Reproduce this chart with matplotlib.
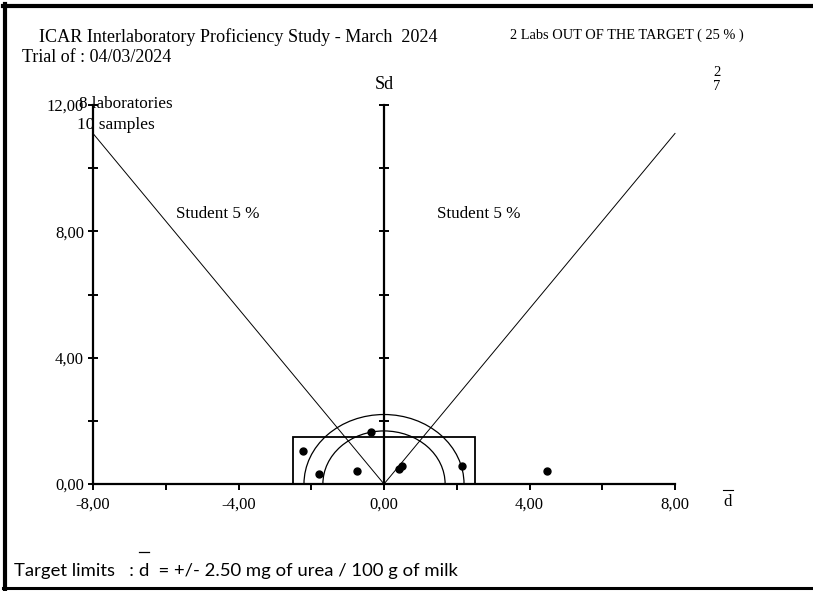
import numpy as np
import matplotlib.pyplot as plt
from matplotlib.patches import Rectangle, Arc
from matplotlib.lines import Line2D

# data
lab_d = [-2.24, -1.80, -0.73, -0.36, 0.40, 0.50, 2.15, 4.47]
lab_sd = [1.06, 0.31, 0.41, 1.66, 0.46, 0.56, 0.58, 0.42]
student_x = [-8, 0, 8]
student_y = [11.1, 0, 11.1]
target_d = 2.5
target_sd = 1.5
circle_r = [1.68, 2.2]
x_major = [-8, -4, 0, 4, 8]
x_minor = [-6, -2, 2, 6]
y_major = [0, 4, 8, 12]
y_minor = [2, 6, 10]
x_labels = ['-8,00', '-4,00', '0,00', '4,00', '8,00']
y_labels = ['0,00', '4,00', '8,00', '12,00']

W, H = 813, 591
serif = 'Liberation Serif'

def fx(px):
    return px / W

def fy(py):
    return 1 - py / H

fig = plt.figure(figsize=(W / 100, H / 100), dpi=100)

# axes placed so that -8..8 -> 93..675 px and 0..12 -> 484..105 px
xlim = (-10, 11.5)
ylim = (-2, 13.5)
sx = (675 - 93) / 16
sy = (484 - 105) / 12
left = 93 + (xlim[0] + 8) * sx
right = 93 + (xlim[1] + 8) * sx
bottom = 484 - ylim[0] * sy
top = 484 - ylim[1] * sy
ax = fig.add_axes([fx(left), fy(bottom), (right - left) / W, (bottom - top) / H])
ax.set_xlim(*xlim)
ax.set_ylim(*ylim)
ax.patch.set_alpha(0)

for s in ['top', 'right']:
    ax.spines[s].set_visible(False)
ax.spines['left'].set_position(('data', -8))
ax.spines['left'].set_bounds(0, 12)
ax.spines['bottom'].set_position(('data', 0))
ax.spines['bottom'].set_bounds(-8, 8)
for s in ['left', 'bottom']:
    ax.spines[s].set_linewidth(1.6)

ax.set_xticks(x_major)
ax.set_xticklabels(x_labels, fontfamily=serif, fontsize=12)
ax.set_xticks(x_minor, minor=True)
ax.set_yticks(y_major)
ax.set_yticklabels(y_labels, fontfamily=serif, fontsize=12)
ax.set_yticks(y_minor, minor=True)
ax.tick_params(axis='x', which='both', direction='out', length=4, width=1.4, pad=5)
ax.tick_params(axis='y', which='both', direction='inout', length=7, width=1.4, pad=3)

# central Sd axis
ax2 = ax.twinx()
ax2.set_ylim(*ylim)
for s in ['top', 'left', 'bottom']:
    ax2.spines[s].set_visible(False)
ax2.spines['right'].set_position(('data', 0))
ax2.spines['right'].set_bounds(0, 12)
ax2.spines['right'].set_linewidth(1.6)
ax2.set_yticks(y_major + y_minor)
ax2.set_yticklabels([])
ax2.tick_params(axis='y', direction='inout', length=7, width=1.4)

# student lines, target and circles
ax.plot(student_x, student_y, color='black', lw=0.7)
ax.add_patch(Rectangle((-target_d, 0), 2 * target_d, target_sd, fill=False,
                       edgecolor='black', lw=1.3))
for r in circle_r:
    ax.add_patch(Arc((0, 0), 2 * r, 2 * r, theta1=0, theta2=180,
                     edgecolor='black', lw=0.9))
ax.plot(lab_d, lab_sd, 'o', color='black', ms=5, zorder=5)

# texts
fig.text(fx(39), fy(37), 'ICAR Interlaboratory Proficiency Study - March  2024',
         family=serif, fontsize=13.1, va='center')
fig.text(fx(22), fy(57), 'Trial of : 04/03/2024', family=serif, fontsize=13, va='center')
fig.text(fx(510), fy(35), '2 Labs OUT OF THE TARGET ( 25 % )', family=serif,
         fontsize=10.4, va='center')
fig.text(fx(384), fy(85), 'Sd', family=serif, fontsize=13, ha='center', va='center')
fig.text(fx(717), fy(72), '2', family=serif, fontsize=10.5, ha='center', va='center')
fig.text(fx(717), fy(87), '7', family=serif, fontsize=10.5, ha='center', va='center')
fig.text(fx(79), fy(104), '8 laboratories', family=serif, fontsize=12.3, va='center')
fig.text(fx(77), fy(125), '10 samples', family=serif, fontsize=12.5, va='center')
fig.text(fx(176), fy(214), 'Student 5 %', family=serif, fontsize=12.3, va='center')
fig.text(fx(437), fy(214), 'Student 5 %', family=serif, fontsize=12.3, va='center')

# d-bar axis label
fig.text(fx(728), fy(502), 'd', family=serif, fontsize=12, ha='center', va='center')
fig.add_artist(Line2D([fx(723), fx(733)], [fy(490), fy(490)], color='black', lw=0.8))

# bottom note
t1 = fig.text(fx(14), fy(571), 'Target limits   : ', family='Lato', fontsize=13.3, va='center')
fig.canvas.draw()
bb = t1.get_window_extent()
t2 = fig.text(bb.x1 / W, fy(571), 'd', family='Lato', fontsize=13.3, va='center')
fig.canvas.draw()
bb2 = t2.get_window_extent()
fig.add_artist(Line2D([bb2.x0 / W, bb2.x1 / W], [fy(552), fy(552)], color='black', lw=0.9))
fig.text(bb2.x1 / W, fy(571), '  = +/- 2.50 mg of urea / 100 g of milk', family='Lato',
         fontsize=13.3, va='center')

# frame
fig.add_artist(Line2D([fx(5), fx(5)], [fy(4), fy(590)], color='black', lw=3))
fig.add_artist(Line2D([fx(3), fx(813)], [fy(6), fy(6)], color='black', lw=3))
fig.add_artist(Line2D([fx(3), fx(813)], [fy(588), fy(588)], color='black', lw=2.2))

fig.savefig('out.png', dpi=100)
